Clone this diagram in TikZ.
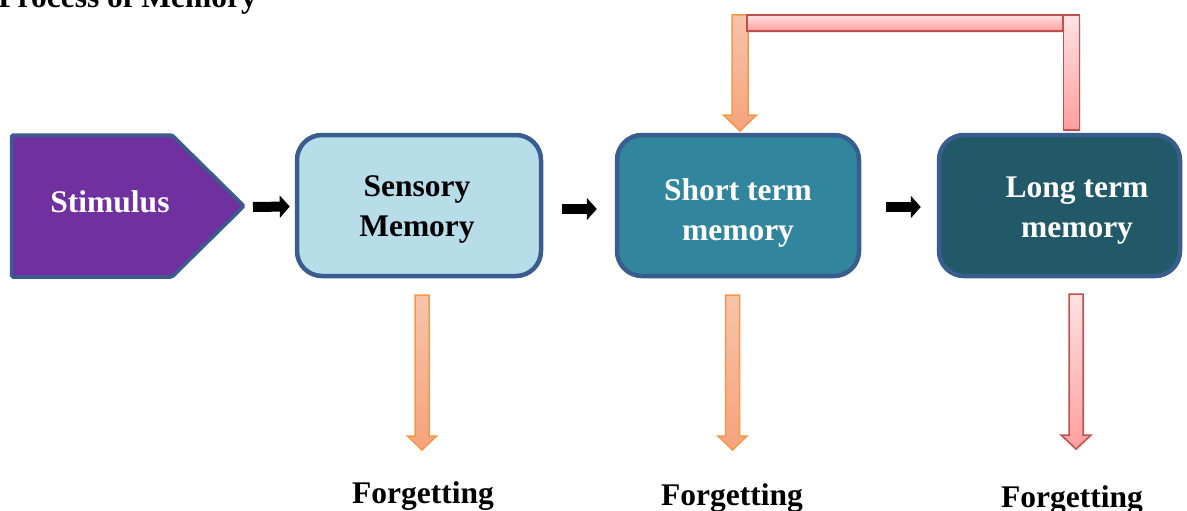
\documentclass[tikz,border=0pt]{standalone}
\usepackage{fontspec}
\setmainfont{Liberation Serif}
\usetikzlibrary{arrows.meta,calc,shadows}

\definecolor{stimpurple}{HTML}{7030A0}
\definecolor{edgeblue}{HTML}{3A5D8F}
\definecolor{sensfill}{HTML}{B7DEE8}
\definecolor{stmfill}{HTML}{31859C}
\definecolor{ltmfill}{HTML}{215968}
\definecolor{orangeedge}{HTML}{F79646}
\definecolor{orangetop}{HTML}{F7C4AA}
\definecolor{orangebot}{HTML}{F5A37C}
\definecolor{rededge}{HTML}{C0504D}
\definecolor{redtop}{HTML}{FFE2E2}
\definecolor{redbot}{HTML}{FF9E9E}

% downward block arrow: style, top point, tip, half shaft, half head, head length
\newcommand\fatdown[6]{%
  \path[#1] let \p1=(#2), \p2=(#3) in
    (\x2-#4pt,\y1) -- (\x2+#4pt,\y1) -- (\x2+#4pt,\y2+#6pt) -- (\x2+#5pt,\y2+#6pt)
    -- (\x2,\y2) -- (\x2-#5pt,\y2+#6pt) -- (\x2-#4pt,\y2+#6pt) -- cycle;
}

\tikzset{
  bigtext/.style={font=\fontsize{31.5}{40}\selectfont\bfseries, align=center, inner sep=0pt},
  membox/.style={draw=edgeblue, line width=4.5pt, rounded corners=25pt, inner sep=0pt},
  flowarrow/.style={line width=10pt, -{Triangle[length=10pt,width=22pt]}},
  orangeshape/.style={draw=orangeedge, line width=1.5pt, top color=orangetop, bottom color=orangebot},
  redshape/.style={draw=rededge, line width=1.5pt, top color=redtop, bottom color=redbot,
    drop shadow={shadow xshift=1.5pt, shadow yshift=-2pt, opacity=0.18}},
}

\begin{document}
\begin{tikzpicture}[x=1pt, y=-1pt]
\useasboundingbox (0,0) rectangle (1187,511);

% title
\node[bigtext, anchor=base east] (title) at (257,7.5) {Process of Memory};

% stimulus pentagon
\draw[fill=stimpurple, draw=edgeblue, line width=3.5pt, rounded corners=1.5pt]
  (11.5,135) -- (172,135) -- (244,206) -- (172,277) -- (11.5,277) -- cycle;
\coordinate (stimtip) at (245,207);
\node[bigtext, text=white] (stim) at (110,202) {Stimulus};

% memory stores
\node[membox, fill=sensfill, minimum width=244pt, minimum height=141pt] (sens) at (419,205.5) {};
\node[membox, fill=stmfill, minimum width=242pt, minimum height=141pt] (stm) at (738,205.5) {};
\node[membox, fill=ltmfill, minimum width=241pt, minimum height=141pt] (ltm) at (1059.5,205.5) {};

\node[bigtext] (senstext) at (417,209) {Sensory\\Memory};
\node[bigtext, text=white] (stmtext) at (738,213) {Short term\\memory};
\node[bigtext, text=white] (ltmtext) at (1077,211) {Long term\\memory};

% flow between stores
\draw[flowarrow] ([xshift=8pt]stimtip) -- ([xshift=-5pt,yshift=-1pt]sens.west);
\draw[flowarrow] ([xshift=19pt,yshift=-3.5pt]sens.east) -- ([xshift=-18pt,yshift=-3.5pt]stm.west);
\draw[flowarrow] ([xshift=25pt,yshift=-1.5pt]stm.east) -- ([xshift=-16pt,yshift=-1.5pt]ltm.west);

% forgetting labels
\node[bigtext, anchor=base] (forg1) at (423,503) {Forgetting};
\node[bigtext, anchor=base] (forg2) at (732,505) {Forgetting};
\node[bigtext, anchor=base] (forg3) at (1072,507) {Forgetting};

% forgetting arrows
\coordinate (f1top) at (422,295);  \coordinate (f1tip) at (422,450);
\coordinate (f2top) at (732.5,295); \coordinate (f2tip) at (732.5,450);
\coordinate (f3top) at (1076,294); \coordinate (f3tip) at (1076,449);
\fatdown{orangeshape}{f1top}{f1tip}{7}{14.5}{14}
\fatdown{orangeshape}{f2top}{f2tip}{7}{14.5}{14}
\fatdown{redshape}{f3top}{f3tip}{7}{15}{14}

% rehearsal loop from long term back to short term memory
\coordinate (looptop) at (740,15); \coordinate (looptip) at (740,131);
\fatdown{orangeshape}{looptop}{looptip}{8}{16.5}{16}
\path[redshape] (747,15) rectangle (1063,31);
\path[redshape] (1063.5,15) rectangle (1079.5,130);
\end{tikzpicture}
\end{document}
